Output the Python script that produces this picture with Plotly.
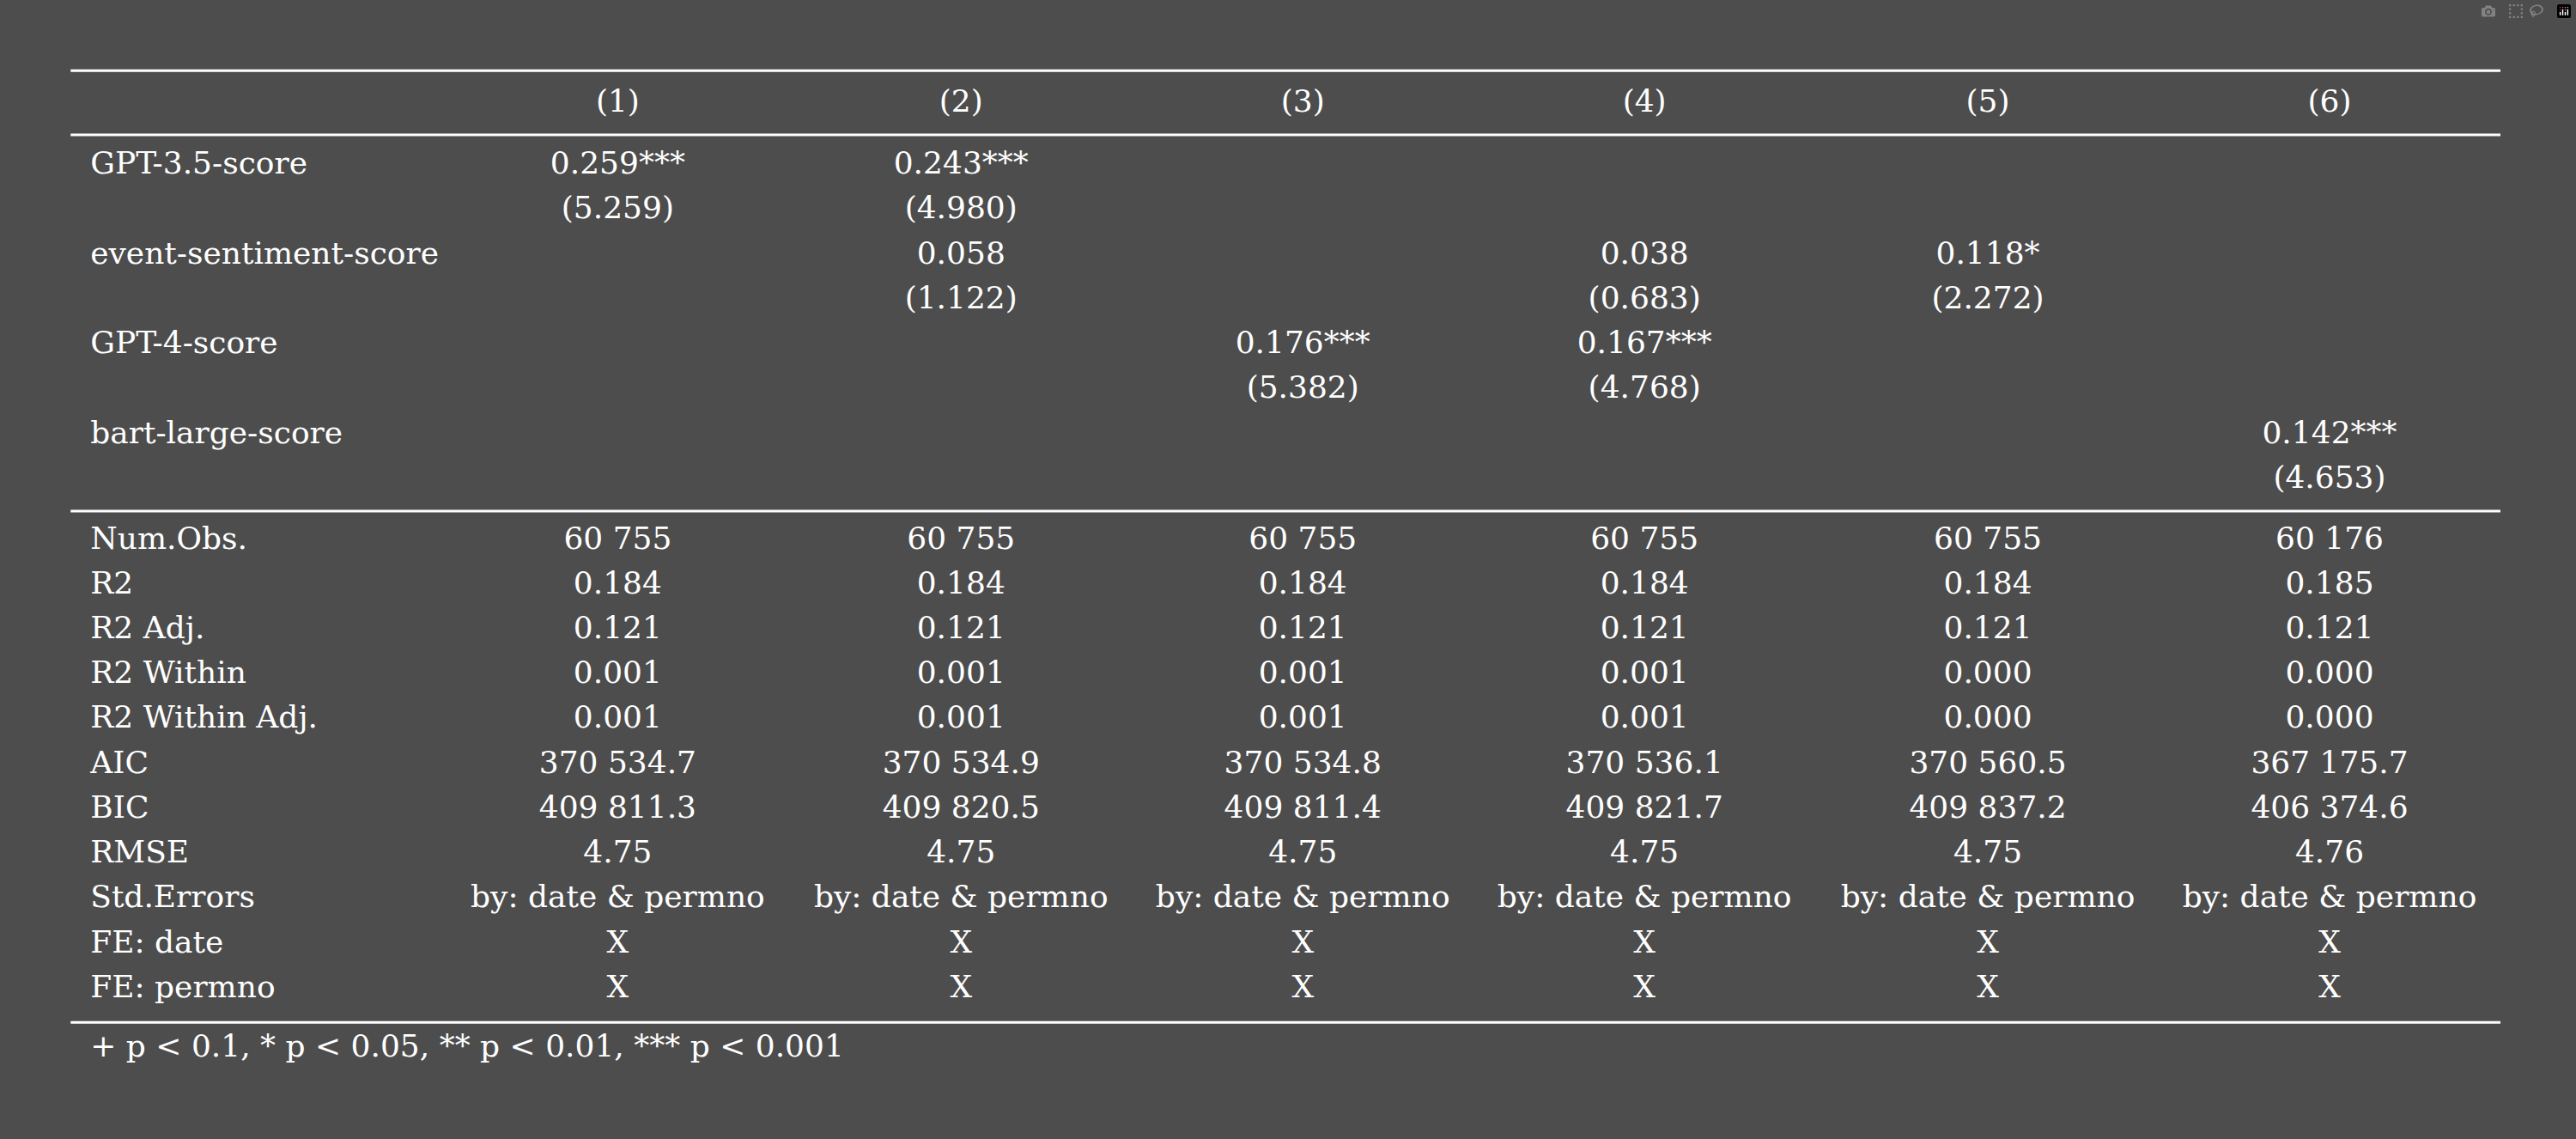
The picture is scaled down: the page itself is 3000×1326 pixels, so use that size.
import plotly.graph_objects as go

columns = ["(1)", "(2)", "(3)", "(4)", "(5)", "(6)"]
coef_names = ["GPT-3.5-score", "event-sentiment-score", "GPT-4-score", "bart-large-score"]
coefs = [
    ["0.259***", "0.243***", "", "", "", ""],
    ["", "0.058", "", "0.038", "0.118*", ""],
    ["", "", "0.176***", "0.167***", "", ""],
    ["", "", "", "", "", "0.142***"],
]
tstats = [
    ["(5.259)", "(4.980)", "", "", "", ""],
    ["", "(1.122)", "", "(0.683)", "(2.272)", ""],
    ["", "", "(5.382)", "(4.768)", "", ""],
    ["", "", "", "", "", "(4.653)"],
]
stat_names = ["Num.Obs.", "R2", "R2 Adj.", "R2 Within", "R2 Within Adj.", "AIC", "BIC", "RMSE",
              "Std.Errors", "FE: date", "FE: permno"]
stats = [
    ["60 755", "60 755", "60 755", "60 755", "60 755", "60 176"],
    ["0.184", "0.184", "0.184", "0.184", "0.184", "0.185"],
    ["0.121", "0.121", "0.121", "0.121", "0.121", "0.121"],
    ["0.001", "0.001", "0.001", "0.001", "0.000", "0.000"],
    ["0.001", "0.001", "0.001", "0.001", "0.000", "0.000"],
    ["370 534.7", "370 534.9", "370 534.8", "370 536.1", "370 560.5", "367 175.7"],
    ["409 811.3", "409 820.5", "409 811.4", "409 821.7", "409 837.2", "406 374.6"],
    ["4.75", "4.75", "4.75", "4.75", "4.75", "4.76"],
    ["by: date & permno"] * 6,
    ["X"] * 6,
    ["X"] * 6,
]
footnote = "+ p < 0.1, * p < 0.05, ** p < 0.01, *** p < 0.001"

# layout (in a 1568 x 693 reference frame)
col_x = [376, 585, 793, 1001, 1210, 1418]
label_x = 55
header_y = 63
coef_y0, row_h = 101, 27.3
stat_y0 = 329
FONT = "DejaVu Serif"
FS = 36

xs, ys, ts = [], [], []
lx, ly, lt = [], [], []
for i, c in enumerate(columns):
    xs.append(col_x[i]); ys.append(header_y); ts.append(c)
for r, name in enumerate(coef_names):
    y = coef_y0 + 2 * r * row_h
    lx.append(label_x); ly.append(y); lt.append(name)
    for i in range(6):
        if coefs[r][i]:
            xs.append(col_x[i]); ys.append(y); ts.append(coefs[r][i])
        if tstats[r][i]:
            xs.append(col_x[i]); ys.append(y + row_h); ts.append(tstats[r][i])
for r, name in enumerate(stat_names):
    y = stat_y0 + r * row_h
    lx.append(label_x); ly.append(y); lt.append(name)
    for i in range(6):
        xs.append(col_x[i]); ys.append(y); ts.append(stats[r][i])
lx.append(label_x); ly.append(638); lt.append(footnote)

fig = go.Figure()
fig.add_trace(go.Scatter(x=xs, y=ys, text=ts, mode="text", textposition="middle center",
                         textfont=dict(family=FONT, size=FS, color="white"), hoverinfo="skip"))
fig.add_trace(go.Scatter(x=lx, y=ly, text=lt, mode="text", textposition="middle right",
                         textfont=dict(family=FONT, size=FS, color="white"), hoverinfo="skip"))
for yl in [43, 82, 311, 622]:
    fig.add_shape(type="line", x0=43, x1=1522, y0=yl, y1=yl, line=dict(color="white", width=3))

fig.update_layout(width=3000, height=1326, margin=dict(l=0, r=0, t=0, b=0),
                  paper_bgcolor="#4d4d4d", plot_bgcolor="#4d4d4d", showlegend=False,
                  xaxis=dict(range=[0, 1568], visible=False, fixedrange=True),
                  yaxis=dict(range=[693, 0], visible=False, fixedrange=True))
fig.write_html("out.html",
               post_script="document.body.style.margin='0';document.body.style.background='#4d4d4d';")
